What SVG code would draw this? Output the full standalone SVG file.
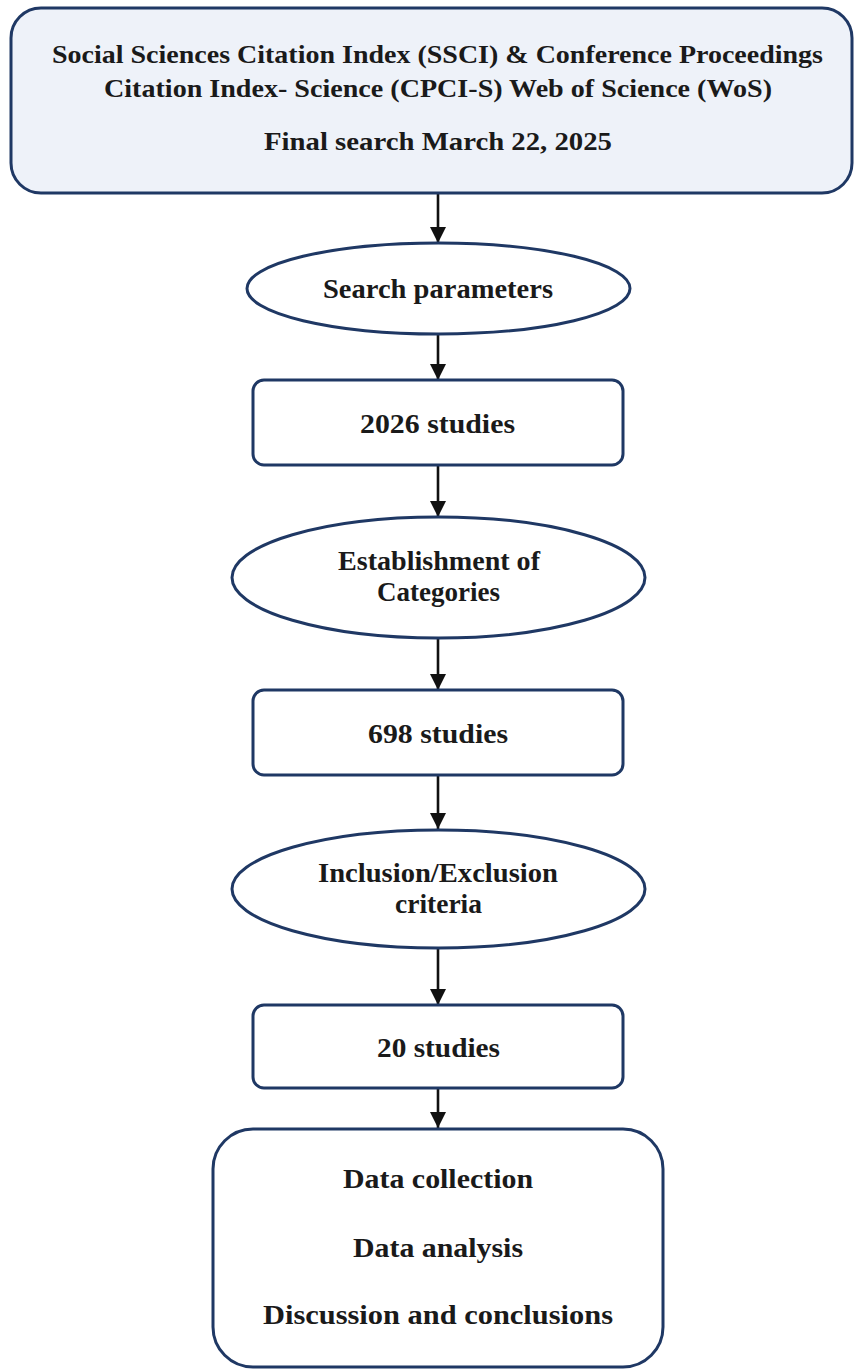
<svg xmlns="http://www.w3.org/2000/svg" width="855" height="1369" viewBox="0 0 855 1369">
  <defs>
    <marker id="arrow" viewBox="0 0 16 16" markerWidth="16" markerHeight="16" refX="16" refY="8" orient="auto" markerUnits="userSpaceOnUse">
      <path d="M0,0 L16,8 L0,16 z" fill="#111111"/>
    </marker>
    <style>
      .node { fill: #ffffff; stroke: #1f3864; stroke-width: 3; }
      .top { fill: #eef2f9; stroke: #1f3864; stroke-width: 3; }
      .conn { stroke: #111111; stroke-width: 2.6; fill: none; }
      text { font-family: "Liberation Serif", "Times New Roman", serif; font-weight: bold; fill: #1a1a1a; text-anchor: middle; }
      .t26 { font-size: 28px; }
      .t24 { font-size: 26px; }
    </style>
  </defs>
  <rect x="0" y="0" width="855" height="1369" fill="#ffffff"/>

  <g id="connectors">
    <line class="conn" x1="438" y1="193" x2="438" y2="243" marker-end="url(#arrow)"/>
    <line class="conn" x1="438" y1="334" x2="438" y2="380" marker-end="url(#arrow)"/>
    <line class="conn" x1="438" y1="465" x2="438" y2="517" marker-end="url(#arrow)"/>
    <line class="conn" x1="438" y1="638" x2="438" y2="690" marker-end="url(#arrow)"/>
    <line class="conn" x1="438" y1="775" x2="438" y2="829" marker-end="url(#arrow)"/>
    <line class="conn" x1="438" y1="948" x2="438" y2="1005" marker-end="url(#arrow)"/>
    <line class="conn" x1="438" y1="1088" x2="438" y2="1128" marker-end="url(#arrow)"/>
  </g>

  <g id="source">
    <rect class="top" x="11" y="8" width="841" height="185" rx="30" ry="30"/>
    <text class="t24" x="437.5" y="63" textLength="771" lengthAdjust="spacingAndGlyphs">Social Sciences Citation Index (SSCI) &amp; Conference Proceedings</text>
    <text class="t24" x="438" y="97" textLength="668" lengthAdjust="spacingAndGlyphs">Citation Index- Science (CPCI-S) Web of Science (WoS)</text>
    <text class="t24" x="438" y="150" textLength="348" lengthAdjust="spacingAndGlyphs">Final search March 22, 2025</text>
  </g>

  <g id="search-parameters">
    <ellipse class="node" cx="438.5" cy="288.5" rx="191.5" ry="45.5"/>
    <text class="t26" x="438" y="298" textLength="230" lengthAdjust="spacingAndGlyphs">Search parameters</text>
  </g>

  <g id="studies-2026">
    <rect class="node" x="253" y="380" width="370" height="85" rx="11" ry="11"/>
    <text class="t26" x="437.5" y="433" textLength="155" lengthAdjust="spacingAndGlyphs">2026 studies</text>
  </g>

  <g id="categories">
    <ellipse class="node" cx="438.5" cy="577.5" rx="206.5" ry="60.5"/>
    <text class="t26" x="439" y="570" textLength="202" lengthAdjust="spacingAndGlyphs">Establishment of</text>
    <text class="t26" x="438.5" y="601" textLength="123" lengthAdjust="spacingAndGlyphs">Categories</text>
  </g>

  <g id="studies-698">
    <rect class="node" x="253" y="690" width="370" height="85" rx="11" ry="11"/>
    <text class="t26" x="438" y="743" textLength="140" lengthAdjust="spacingAndGlyphs">698 studies</text>
  </g>

  <g id="criteria">
    <ellipse class="node" cx="438.5" cy="889" rx="206.5" ry="59"/>
    <text class="t26" x="438" y="882" textLength="240" lengthAdjust="spacingAndGlyphs">Inclusion/Exclusion</text>
    <text class="t26" x="438.5" y="913" textLength="87" lengthAdjust="spacingAndGlyphs">criteria</text>
  </g>

  <g id="studies-20">
    <rect class="node" x="253" y="1005" width="370" height="83" rx="11" ry="11"/>
    <text class="t26" x="438.5" y="1057" textLength="123" lengthAdjust="spacingAndGlyphs">20 studies</text>
  </g>

  <g id="analysis">
    <rect class="node" x="213" y="1129" width="450" height="238" rx="40" ry="40"/>
    <text class="t26" x="438" y="1188" textLength="190" lengthAdjust="spacingAndGlyphs">Data collection</text>
    <text class="t26" x="438" y="1257" textLength="170" lengthAdjust="spacingAndGlyphs">Data analysis</text>
    <text class="t26" x="438" y="1324" textLength="350" lengthAdjust="spacingAndGlyphs">Discussion and conclusions</text>
  </g>
</svg>
